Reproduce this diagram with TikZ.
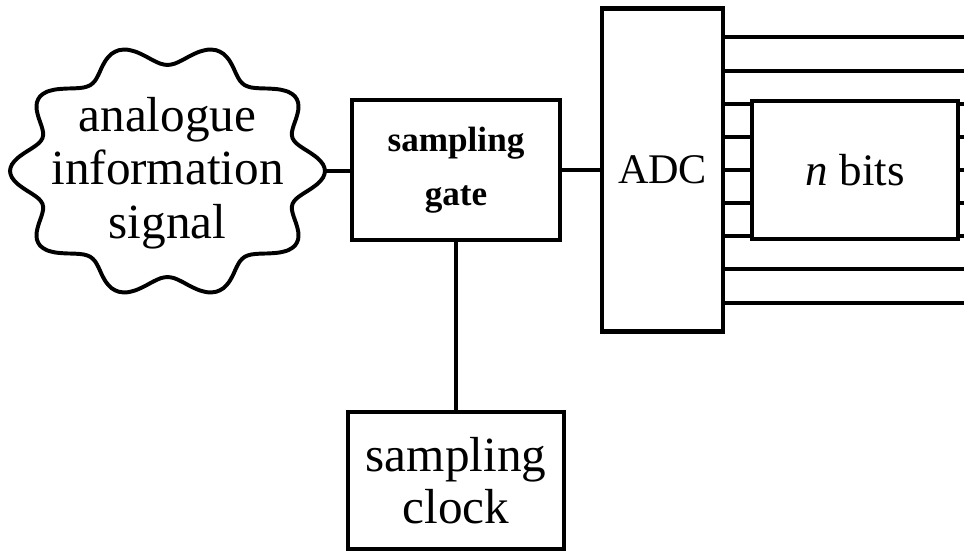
\documentclass[tikz,border=0pt]{standalone}
\usepackage{fontspec}
\setmainfont{Liberation Serif}
\usetikzlibrary{positioning}

\begin{document}
\begin{tikzpicture}[x=0.025cm,y=0.025cm,node distance=1cm]
  \tikzstyle{box}=[draw=black,line width=3pt,rectangle,align=center,inner sep=0pt]
  \tikzstyle{wire}=[line width=2.8pt]
  \useasboundingbox (0,0) rectangle (964,551);

  \node[align=center,font=\fontsize{35}{38}\selectfont] (sig) at (167.5,378) {analogue\\information\\signal};
  \draw[wire] plot[domain=0:357,samples=120,smooth cycle]
    ({167.5+144.5*(1+0.09*cos(10*\x))*cos(\x)},{380+116.5*(1+0.09*cos(10*\x))*sin(\x)});
  \coordinate (tip) at (325,380);
  \coordinate (rim) at (964,381);

  \node[box,minimum width=5.2cm,minimum height=3.5cm,font=\bfseries\fontsize{25}{38}\selectfont] (gate) at (456,381) {sampling\\gate};
  \node[box,minimum width=3.025cm,minimum height=8.075cm,font=\fontsize{30}{36}\selectfont] (adc) [right=0.945cm of gate] {ADC};
  \node[box,minimum width=5.15cm,minimum height=3.45cm,font=\fontsize{32}{36}\selectfont] (bits) [right=0.62cm of adc] {\textit{n} bits};
  \node[box,minimum width=5.4cm,minimum height=3.425cm,font=\fontsize{35}{37}\selectfont] (clk) [below=4.2cm of gate] {sampling\\clock};

  \draw[wire] (tip) -- (tip -| gate.west);
  \draw[wire] (gate.east) -- (adc.west);
  \draw[wire] (gate.south) -- (clk.north);

  % n parallel outputs
  \foreach \k in {-2,...,2}{
    \draw[wire] ([yshift=\k*0.825cm]adc.east) -- ([yshift=\k*0.825cm]bits.west);
    \draw[wire] ([yshift=\k*0.825cm]bits.east) -- ([yshift=\k*0.825cm]rim);
  }
  \foreach \d in {-3.325,-2.475,2.475,3.325}
    \draw[wire] ([yshift=\d cm]adc.east) -- ([yshift=\d cm]rim);
\end{tikzpicture}
\end{document}
